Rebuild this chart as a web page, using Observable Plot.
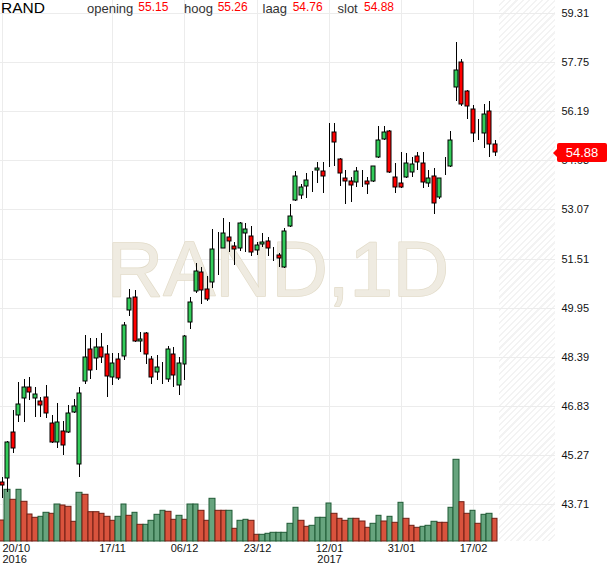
<!DOCTYPE html>
<html><head><meta charset="utf-8">
<script src="https://cdn.jsdelivr.net/npm/d3@7"></script>
<script src="https://cdn.jsdelivr.net/npm/@observablehq/plot@0.6"></script>
<style>
body{margin:0;background:#fff;font-family:"Liberation Sans",Arial,sans-serif;}
#wrap{position:relative;width:610px;height:568px;overflow:hidden;background:#fff;}
#wrap svg{position:absolute;left:0;top:0;}
.hatch{position:absolute;left:499px;top:0;width:56px;height:541px;background:repeating-linear-gradient(135deg,#ffffff 0px,#ffffff 3px,#f3f3f3 3px,#f3f3f3 4.5px);}
.hdr{position:absolute;white-space:nowrap;line-height:1;}
.lab{font-size:13px;color:#333;top:2.3px;}
.val{font-size:12px;color:#f00;top:0.5px;}
#tag{position:absolute;left:557px;width:50px;height:19px;background:#f00;color:#fff;font-size:13px;line-height:19px;text-align:center;border-radius:2px;}
#tag:before{content:"";position:absolute;left:-4px;top:5.5px;border-top:4px solid transparent;border-bottom:4px solid transparent;border-right:4px solid #f00;}
</style></head>
<body><div id="wrap"><div class="hatch"></div></div>
<script>
// ---- data (one entry per trading day, 20/10/2016 .. 23/02/2017) ----
const open = [44.41,44.53,46.00,46.54,47.08,47.43,47.08,46.98,47.11,46.28,
45.68,46.03,46.00,46.63,44.98,47.62,48.63,48.35,48.70,48.47,
47.74,48.32,48.41,49.87,50.29,48.89,49.14,48.32,47.90,47.90,
47.68,48.47,47.49,48.16,49.49,50.48,51.08,50.54,50.76,51.65,
51.84,52.19,51.91,51.84,52.32,52.22,51.78,51.97,52.07,51.59,
51.62,51.24,52.54,53.37,53.53,53.81,54.10,54.32,54.29,54.45,
55.53,54.67,54.07,53.97,53.94,54.19,53.97,53.97,54.73,55.31,
55.56,54.10,53.91,54.10,54.26,54.77,54.54,53.91,54.13,53.46,
54.39,54.45,56.96,57.75,56.83,56.26,55.53,55.50,56.20,55.15];
const high = [44.57,45.70,46.69,47.58,47.68,47.74,47.43,47.11,47.49,46.54,
46.92,46.35,46.85,47.04,47.43,49.08,48.98,48.98,49.14,48.76,
48.51,48.51,49.49,50.54,50.51,49.17,49.17,48.41,48.44,48.22,
48.73,48.70,48.38,49.07,50.29,51.37,51.24,50.95,52.45,52.35,
52.80,52.67,52.03,52.67,52.64,52.54,52.03,52.32,52.19,51.87,
51.68,52.48,53.24,54.29,53.88,54.23,54.29,54.57,54.57,55.81,
55.81,54.69,54.32,54.10,54.42,54.32,54.10,54.45,55.72,55.72,
55.58,54.54,54.89,54.86,54.73,54.89,54.89,54.32,54.39,54.07,
54.73,55.56,58.39,57.85,56.85,56.39,55.94,56.42,56.51,55.26];
const low = [43.90,44.09,45.33,46.31,46.31,47.01,46.47,46.47,46.44,45.65,
45.49,45.27,45.98,46.60,44.57,47.52,47.68,47.97,48.19,47.11,
47.49,47.65,48.28,49.68,48.87,48.54,48.16,47.52,47.65,47.52,
47.58,47.43,47.17,47.65,49.27,50.41,50.06,50.16,50.57,50.98,
51.83,51.72,51.30,51.75,51.72,51.59,51.62,51.87,51.59,51.43,
51.24,51.22,52.51,53.34,53.40,53.43,53.62,53.91,53.59,54.42,
54.45,53.81,53.24,53.30,53.78,53.78,53.56,53.95,54.71,55.29,
54.24,53.59,53.76,54.07,54.10,54.32,53.75,53.78,52.92,53.40,
54.16,54.43,56.51,56.36,55.94,55.21,55.27,55.02,54.73,54.76];
const close = [44.31,45.68,45.49,46.89,47.43,47.27,47.20,46.85,46.60,45.68,
46.31,45.58,46.60,46.82,47.24,48.38,47.97,48.70,48.38,47.78,
48.19,47.71,49.40,50.25,48.89,48.95,48.47,47.74,48.06,47.90,
48.63,47.81,48.19,49.05,50.13,51.11,50.51,50.22,51.81,51.65,
52.32,52.07,51.81,52.64,52.45,51.72,51.94,52.03,51.84,51.59,
51.52,52.38,52.86,54.13,53.78,54.00,54.10,54.39,54.13,54.45,
55.21,54.23,53.97,53.84,54.29,54.19,53.88,54.45,55.27,55.53,
54.26,53.78,53.78,54.54,54.51,54.57,53.94,54.07,53.27,54.07,
54.39,55.27,57.50,56.42,56.36,55.50,55.53,56.10,55.15,54.88];
// volume (thousands) and its bar colour (u = green, d = red)
const volume = [420,1034,834,1034,794,540,474,494,574,554,
740,720,694,394,974,934,586,586,554,494,
414,494,740,514,574,334,334,414,534,614,
594,434,514,434,740,740,614,414,854,614,
614,614,254,414,434,414,134,134,154,174,
174,174,354,674,414,294,314,474,474,760,
554,454,414,454,454,400,274,354,514,400,
494,374,774,454,314,274,294,314,394,374,
374,674,1634,786,554,614,354,534,554,454];
const volDir = ["d","u","d","u","d","d","d","u","u","d",
"u","d","d","d","u","d","d","d","d","d",
"d","u","u","d","u","d","u","u","u","u",
"d","d","u","d","u","u","d","d","u","d",
"d","u","d","u","u","d","d","u","u","u",
"u","u","u","u","d","d","u","u","u","u",
"d","d","d","u","d","d","d","u","u","d",
"u","d","u","d","d","d","u","u","u","d",
"d","u","u","d","d","u","d","u","u","d"];
// axis ticks
const yTicks = [43.71,45.27,46.83,48.39,49.95,51.51,53.07,54.63,56.19,57.75,59.31];
const tickIdx = [1,21,34,47,60,73,86];
const tickLabels = ["20/10\n2016","17/11","06/12","23/12","12/01\n2017","31/01","17/02"];
const header = {symbol:"RAND", labels:["opening","hoog","laag","slot"], values:[55.15,55.26,54.76,54.88]};
const watermark = "RAND,1D";

const n = close.length;
const data = open.map((o,k)=>({i:k+1,o,h:high[k],l:low[k],c:close[k],v:volume[k],vd:volDir[k]}));

const base = {
  width:610, height:568, marginTop:0, marginRight:55, marginBottom:27, marginLeft:0,
  x:{type:"linear", domain:[1,n], range:[1.7,494.7], round:true},
  color:{type:"identity"},
  style:{background:"transparent", fontFamily:"'Liberation Sans',Arial,sans-serif", color:"#111", overflow:"visible"}
};
const yPrice = {domain:[43.71,59.31], range:[504,13], round:true};

const A = Plot.plot({...base, y:yPrice, marks:[
  Plot.gridY(yTicks, {stroke:"#ececec", strokeOpacity:1}),
  Plot.gridX(tickIdx, {stroke:"#ececec", strokeOpacity:1}),
  Plot.text([watermark], {frameAnchor:"middle", fontSize:78, fill:"#efebe1", stroke:"#e2dbc8", strokeWidth:1.4}),
  Plot.axisY({anchor:"right", ticks:yTicks, tickSize:0, tickPadding:6, tickFormat:d=>d.toFixed(2), fontSize:11, label:null}),
  Plot.axisX({ticks:tickIdx.slice(1), tickFormat:i=>tickLabels[tickIdx.indexOf(i)], tickSize:0, tickPadding:3, fontSize:11, lineHeight:1, label:null}),
  Plot.axisX({ticks:[tickIdx[0]], tickFormat:()=>tickLabels[0], tickSize:0, tickPadding:3, fontSize:11, lineHeight:1, textAnchor:"start", label:null})
]});

const B = Plot.plot({...base, y:{domain:[0,2000], range:[541,441]}, axis:null, marks:[
  Plot.rect(data, {x1:d=>d.i-0.5, x2:d=>d.i+0.5, y1:0, y2:"v",
    fill:d=>d.vd==="u"?"#67a47e":"#d9533d", stroke:d=>d.vd==="u"?"#1f5a35":"#6e1f14", strokeWidth:1})
]});

const C = Plot.plot({...base, y:yPrice, axis:null, marks:[
  Plot.ruleX(data, {x:"i", y1:"l", y2:"h", stroke:"#000", strokeWidth:1}),
  Plot.rect(data, {x1:d=>d.i-0.36, x2:d=>d.i+0.36, y1:"o", y2:"c",
    fill:d=>d.c>d.o?"#33cc5a":d.c<d.o?"#ff0000":"#000", stroke:"#000", strokeWidth:1})
]});

const wrap = document.getElementById("wrap");
wrap.append(A, B, C);

// header
function span(cls, text, left, extra){
  const s = document.createElement("span");
  s.className = "hdr " + cls; s.textContent = text; s.style.left = left + "px";
  if (extra) Object.assign(s.style, extra);
  wrap.append(s);
}
span("", header.symbol, 1, {fontSize:"15.5px", color:"#000", top:"-0.4px"});
const labX = [87, 184, 262.5, 337.5], valX = [138.3, 217.7, 292.7, 364];
header.labels.forEach((t,k)=>{ span("lab", t, labX[k]); span("val", header.values[k].toFixed(2), valX[k]); });

// last-price tag
const tag = document.createElement("div");
tag.id = "tag"; tag.textContent = close[n-1].toFixed(2);
tag.style.top = (C.scale("y").apply(close[n-1]) - 9) + "px";
wrap.append(tag);
</script>
</body></html>
